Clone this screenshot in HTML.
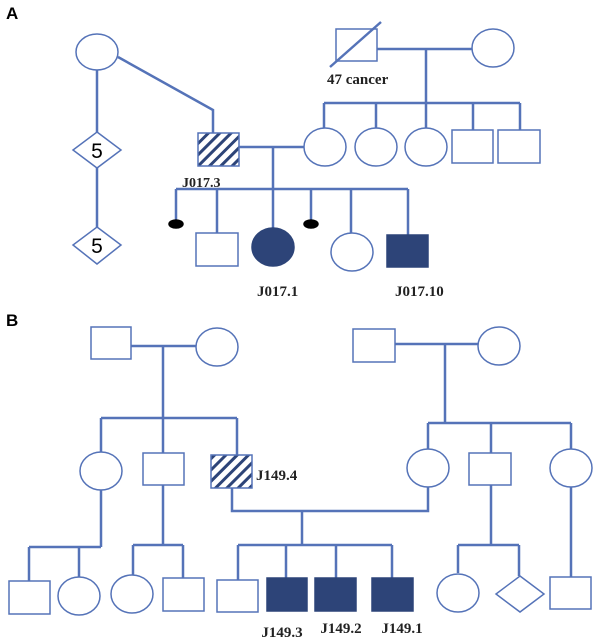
<!DOCTYPE html>
<html><head><meta charset="utf-8"><style>
html,body{margin:0;padding:0;background:#fff;}
svg{display:block;}
text{font-family:"Liberation Serif",serif;font-weight:bold;fill:#222;font-size:15px;}
</style></head><body>
<svg width="601" height="643" viewBox="0 0 601 643" xmlns="http://www.w3.org/2000/svg">
<defs>
<pattern id="h" patternUnits="userSpaceOnUse" width="8" height="8" patternTransform="rotate(45)">
<rect width="8" height="8" fill="#fff"/><rect x="0" y="0" width="3" height="8" fill="#2d4478"/>
</pattern>
</defs>
<text x="6" y="19" style="font-family:'Liberation Sans',sans-serif;font-size:17px;fill:#000">A</text>
<text x="6" y="326" style="font-family:'Liberation Sans',sans-serif;font-size:17px;fill:#000">B</text>
<g stroke="#5573b8" stroke-width="2.5" fill="none">
<path d="M97 70V132M97 168V227"/>
<path d="M118 57L213 110V133"/>
<path d="M239 147H304"/>
<path d="M273 147V229"/>
<path d="M176 189H408"/>
<path d="M176 189V222M217 189V233M311 189V222M351 189V233M408 189V235"/>
<path d="M377 49H472M426 49V103M324 103H520"/>
<path d="M324 103V128M376 103V128M426 103V128M473 103V130M520 103V130"/>
<path d="M131 346H196M163 346V418M101 418H237M101 418V452M163 418V453M237 418V455"/>
<path d="M101 490V547M29 547H101M29 547V581M79 547V577"/>
<path d="M163 485V545M133 545H183M133 545V575M183 545V578"/>
<path d="M232 488V511H428V487M302 511V545M238 545H392M238 545V580M286 545V578M336 545V578M392 545V578"/>
<path d="M395 344H478M445 344V423M428 423H571M428 423V449M491 423V453M571 423V449"/>
<path d="M491 485V545M458 545H519M458 545V573M519 545V576"/>
<path d="M571 487V577"/>
</g>
<g stroke="#5573b8" stroke-width="1.5" fill="#fff">
<ellipse cx="97" cy="52" rx="21" ry="18"/>
<polygon points="97,132 121,150 97,168 73,150"/>
<polygon points="97,227 121,245 97,264 73,245"/>
<rect x="198" y="133" width="41" height="33" fill="url(#h)"/>
<rect x="196" y="233" width="42" height="33"/>
<ellipse cx="273" cy="247" rx="21" ry="19" fill="#2d4478" stroke="#2d4478"/>
<ellipse cx="352" cy="252" rx="21" ry="19"/>
<rect x="387" y="235" width="41" height="32" fill="#2d4478" stroke="#2d4478"/>
<ellipse cx="176" cy="224" rx="7" ry="4" fill="#000" stroke="#000"/>
<ellipse cx="311" cy="224" rx="7" ry="4" fill="#000" stroke="#000"/>
<rect x="336" y="29" width="41" height="32"/>
<ellipse cx="493" cy="48" rx="21" ry="19"/>
<ellipse cx="325" cy="147" rx="21" ry="19"/>
<ellipse cx="376" cy="147" rx="21" ry="19"/>
<ellipse cx="426" cy="147" rx="21" ry="19"/>
<rect x="452" y="130" width="41" height="33"/>
<rect x="498" y="130" width="42" height="33"/>
<rect x="91" y="327" width="40" height="32"/>
<ellipse cx="217" cy="347" rx="21" ry="19"/>
<ellipse cx="101" cy="471" rx="21" ry="19"/>
<rect x="143" y="453" width="41" height="32"/>
<rect x="211" y="455" width="41" height="33" fill="url(#h)"/>
<rect x="9" y="581" width="41" height="33"/>
<ellipse cx="79" cy="596" rx="21" ry="19"/>
<ellipse cx="132" cy="594" rx="21" ry="19"/>
<rect x="163" y="578" width="41" height="33"/>
<rect x="217" y="580" width="41" height="32"/>
<rect x="267" y="578" width="40" height="33" fill="#2d4478" stroke="#2d4478"/>
<rect x="315" y="578" width="41" height="33" fill="#2d4478" stroke="#2d4478"/>
<rect x="372" y="578" width="41" height="33" fill="#2d4478" stroke="#2d4478"/>
<rect x="353" y="329" width="42" height="33"/>
<ellipse cx="499" cy="346" rx="21" ry="19"/>
<ellipse cx="428" cy="468" rx="21" ry="19"/>
<rect x="469" y="453" width="42" height="32"/>
<ellipse cx="571" cy="468" rx="21" ry="19"/>
<ellipse cx="458" cy="593" rx="21" ry="19"/>
<polygon points="520,576 544,594 520,612 496,594"/>
<rect x="550" y="577" width="41" height="32"/>
</g>
<line x1="330" y1="67" x2="381" y2="22" stroke="#5573b8" stroke-width="2.5"/>
<text x="97" y="158" text-anchor="middle" style="font-family:'Liberation Sans',sans-serif;font-weight:normal;font-size:21px;fill:#000">5</text>
<text x="97" y="253" text-anchor="middle" style="font-family:'Liberation Sans',sans-serif;font-weight:normal;font-size:21px;fill:#000">5</text>
<text x="327" y="84">47 cancer</text>
<text x="182" y="187" style="font-size:14px">J017.3</text>
<text x="257" y="296">J017.1</text>
<text x="395" y="296">J017.10</text>
<text x="256" y="480">J149.4</text>
<text x="282" y="637" text-anchor="middle">J149.3</text>
<text x="341" y="633" text-anchor="middle">J149.2</text>
<text x="402" y="633" text-anchor="middle">J149.1</text>
</svg>
</body></html>
